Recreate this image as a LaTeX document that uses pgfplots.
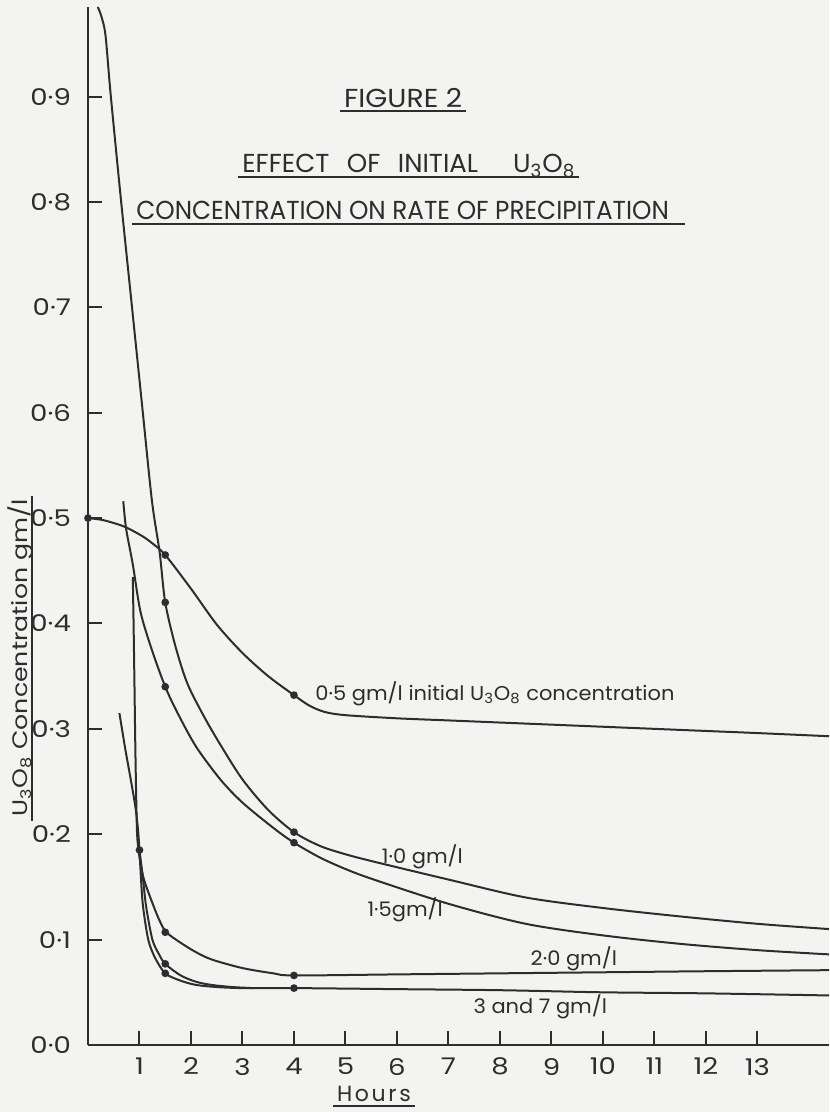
\documentclass[border=0pt]{standalone}
\usepackage{pgfplots}
\pgfplotsset{compat=1.18}
\usepackage{fontspec}
\setmainfont{Poppins}
\newfontfamily\tickf[FakeStretch=1.2]{Poppins}
\newfontfamily\labf[FakeStretch=1.05]{Poppins}
\newfontfamily\ylabf[FakeStretch=1.2]{Poppins}
\newfontfamily\titf[FakeStretch=1.09]{Poppins}
\newfontfamily\titn[FakeStretch=0.95]{Poppins}
\definecolor{ink}{RGB}{45,45,45}
\definecolor{paper}{RGB}{243,243,241}
\newcommand{\ul}[2][0pt]{\setbox0\hbox{#2}\hbox{\rlap{\kern-2pt\rule[-2.6pt]{\dimexpr\wd0+4pt+#1\relax}{0.9pt}}\box0}}
\newcommand{\kfont}{\tickf\fontsize{11.5}{13}\selectfont}
\newcommand{\lfont}{\labf\fontsize{10}{12}\selectfont}
\begin{document}
\begin{tikzpicture}
\fill[paper] (-44pt,-33.5pt) rectangle (370.5pt,522.5pt);
\begin{axis}[
  at={(0,0)}, anchor=south west,
  scale only axis, width=370.5pt, height=519pt,
  xmin=0, xmax=14.39, ymin=0, ymax=0.985,
  clip=false,
  axis x line*=bottom, axis y line*=left,
  axis line style={ink, line width=1pt, -},
  tick align=inside, major tick length=7pt,
  tick style={ink, line width=1pt},
  xtick={1,2,3,4,5,6,7,8,9,10,11,12,13},
  xticklabels={1,2,3,4,5,6,7,8,9,10,11,12,13},
  ytick={0,0.1,0.2,0.3,0.4,0.5,0.6,0.7,0.8,0.9},
  yticklabels={0·0,0·1,0·2,0·3,0·4,0·5,0·6,0·7,0·8,0·9},
  xticklabel style={font=\kfont, text=ink, yshift=-3pt},
  yticklabel style={font=\kfont, text=ink, xshift=-5pt},
  every axis plot/.append style={ink, line width=1pt},
]
% 0.5 gm/l
\addplot[smooth] coordinates {(0,0.500)(0.3,0.498)(0.7,0.492)(1.05,0.483)(1.25,0.476)(1.5,0.465)(2.0,0.433)(2.5,0.399)(3.0,0.372)(3.5,0.350)(4.0,0.332)(4.3,0.322)(4.6,0.316)(5.0,0.313)(6,0.310)(7,0.308)(8,0.306)(9,0.304)(10,0.302)(11,0.300)(12,0.298)(13,0.296)(14.39,0.293)};
% 1.0 gm/l
\addplot[smooth] coordinates {(0.19,0.985)(0.26,0.976)(0.34,0.958)(0.44,0.902)(0.64,0.802)(0.84,0.707)(1.04,0.612)(1.24,0.517)(1.39,0.468)(1.5,0.420)(1.7,0.378)(1.93,0.343)(2.25,0.312)(2.57,0.285)(3.0,0.252)(3.5,0.223)(4.0,0.202)(4.5,0.189)(5.0,0.181)(5.55,0.174)(7,0.157)(8.5,0.140)(10,0.130)(11.5,0.122)(13,0.115)(14.39,0.110)};
% 1.5 gm/l
\addplot[smooth] coordinates {(0.685,0.516)(0.74,0.490)(0.87,0.456)(1.02,0.411)(1.24,0.375)(1.5,0.340)(1.74,0.315)(2.1,0.283)(2.57,0.252)(3.0,0.230)(3.6,0.206)(4.0,0.192)(4.5,0.178)(5.0,0.167)(5.55,0.157)(7,0.134)(8.5,0.115)(10,0.104)(11.5,0.096)(13,0.090)(14.39,0.086)};
% 2.0 gm/l
\addplot[smooth] coordinates {(0.87,0.444)(0.885,0.400)(0.90,0.350)(0.92,0.280)(0.94,0.225)(0.96,0.195)(1.02,0.172)(1.10,0.155)(1.28,0.131)(1.40,0.117)(1.52,0.107)(1.8,0.097)(2.1,0.088)(2.41,0.081)(3.0,0.073)(3.6,0.068)(4.0,0.066)(6,0.067)(8,0.068)(10,0.069)(12,0.070)(14.39,0.071)};
% 3 and 7 gm/l, common start
\addplot[smooth] coordinates {(0.61,0.315)(0.72,0.282)(0.83,0.252)(0.92,0.226)(0.97,0.205)(1.0,0.185)};
\addplot[smooth] coordinates {(1.0,0.185)(1.03,0.157)(1.07,0.131)(1.17,0.100)(1.3,0.083)(1.5,0.068)(1.8,0.061)(2.1,0.057)(2.5,0.055)(3,0.054)(4,0.054)(6,0.053)(8,0.052)(10,0.050)(12,0.049)(14.39,0.047)};
\addplot[smooth] coordinates {(1.0,0.185)(1.07,0.157)(1.13,0.131)(1.25,0.100)(1.38,0.086)(1.5,0.077)(1.8,0.066)(2.1,0.060)(2.4,0.057)(2.8,0.055)(3.2,0.054)};
% measured points
\addplot[only marks, mark=*, mark size=1.4pt, ink] coordinates {(0,0.500)(1.5,0.465)(4.0,0.332)(1.5,0.420)(4.0,0.202)(1.5,0.340)(4.0,0.192)(1.5,0.107)(4.0,0.066)(1.0,0.185)(1.5,0.077)(1.5,0.068)(4.0,0.054)};
% texts
\node[anchor=base, text=ink, inner sep=0pt] at (axis cs:6.12,0.890) {\titf\fontsize{13}{15}\selectfont\ul{FIGURE 2}};
\node[anchor=base west, text=ink, inner sep=0pt] at (axis cs:2.99,0.828) {\fontsize{13}{15}\selectfont\ul{\makebox[166.5pt][s]{EFFECT\hfil OF\hfil INITIAL\hfil\hfil U\textsubscript{3}O\textsubscript{8}}}};
\node[anchor=base west, text=ink, inner sep=0pt] at (axis cs:0.93,0.783) {\titn\fontsize{13}{15}\selectfont\ul[6pt]{CONCENTRATION ON RATE OF PRECIPITATION}};
\node[anchor=base west, text=ink, font=\lfont, inner sep=0pt] at (axis cs:4.41,0.327) {0·5 gm/l initial U\textsubscript{3}O\textsubscript{8} concentration};
\node[anchor=base west, text=ink, font=\lfont, inner sep=0pt] at (axis cs:5.70,0.172) {1·0 gm/l};
\node[anchor=base west, text=ink, font=\lfont, inner sep=0pt] at (axis cs:5.42,0.122) {1·5gm/l};
\node[anchor=base west, text=ink, font=\lfont, inner sep=0pt] at (axis cs:8.59,0.075) {2·0 gm/l};
\node[anchor=base west, text=ink, font=\lfont, inner sep=0pt] at (axis cs:7.48,0.030) {3 and 7 gm/l};
\node[anchor=base west, text=ink, inner sep=0pt] at (axis cs:4.83,-0.054) {\addfontfeatures{LetterSpace=12}\fontsize{11}{13}\selectfont\ul{Hours}};
\node[anchor=base, rotate=90, text=ink, inner sep=0pt] at ([xshift=-30pt]axis cs:0,0.367) {\ylabf\fontsize{10.5}{12}\selectfont\ul{U\textsubscript{3}O\textsubscript{8} Concentration gm/l}};
\end{axis}
\pgfresetboundingbox
\useasboundingbox (-44pt,-33.5pt) rectangle (370.5pt,522.5pt);
\end{tikzpicture}
\end{document}
